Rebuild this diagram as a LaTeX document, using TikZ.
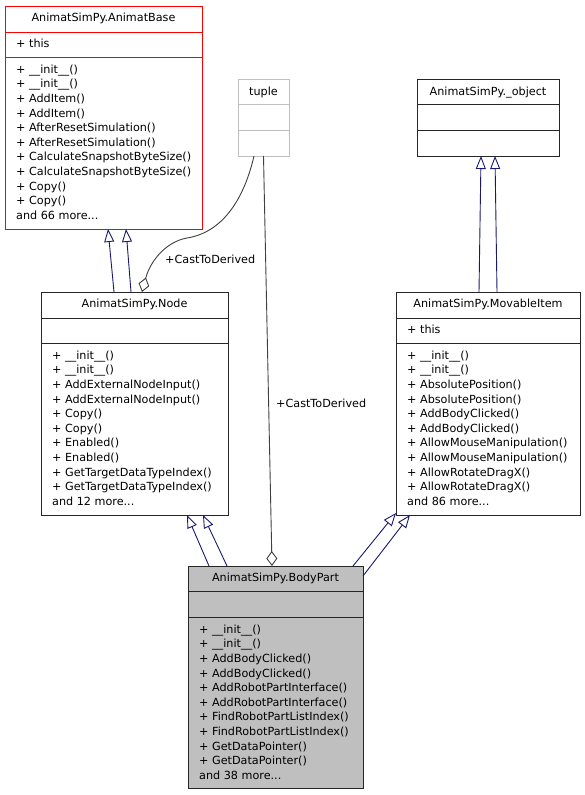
\documentclass[tikz,border=0pt]{standalone}
\usepackage{fontspec}
\setmainfont{DejaVu Sans}
\usetikzlibrary{arrows.meta}

\definecolor{navy}{HTML}{191970}
\definecolor{edgegray}{HTML}{404040}
\definecolor{lightframe}{HTML}{BFBFBF}
\definecolor{bodyfill}{HTML}{BFBFBF}

\begin{document}
\begin{tikzpicture}[x=1pt, y=-1pt,
        classbox/.style={rectangle, draw=black!85, line width=1pt, fill=white,
            inner sep=0pt, outer sep=0pt, anchor=north west},
        classname/.style={inner sep=0pt, anchor=base, font=\fontsize{11.2}{14.6}\selectfont},
        members/.style={inner sep=0pt, anchor=north west, align=left,
            font=\fontsize{11.2}{14.6}\selectfont},
        rolename/.style={inner sep=0pt, anchor=base west, font=\fontsize{11.2}{14.6}\selectfont},
        sepline/.style={black!85, line width=1pt},
        inherit/.style={-{Triangle[open, length=13pt, width=10pt]}, navy, line width=0.9pt},
        aggregate/.style={-{Diamond[open, length=15pt, width=11pt]}, edgegray, line width=0.9pt}
    ]
        \useasboundingbox[fill=white] (0,0) rectangle (585,795);

        % Base class at the top left
        \node[classbox, draw=red, minimum width=197pt, minimum height=223pt] (animatbase) at (5,6) {};
        \node[classname] (animatbase-name) at ([yshift=-15.5pt]animatbase.north) {AnimatSimPy.AnimatBase};
        \draw[sepline, red] ([yshift=-26pt]animatbase.north west) -- ([yshift=-26pt]animatbase.north east);
        \draw[sepline, red] ([yshift=-51pt]animatbase.north west) -- ([yshift=-51pt]animatbase.north east);
        \node[members] (animatbase-attr) at ([xshift=11pt, yshift=-32.5pt]animatbase.north west) {+ this};
        \node[members] (animatbase-ops) at ([xshift=11pt, yshift=-58.5pt]animatbase.north west)
            {+ \_\_init\_\_()\\+ \_\_init\_\_()\\+ AddItem()\\+ AddItem()\\+ AfterResetSimulation()\\
            + AfterResetSimulation()\\+ CalculateSnapshotByteSize()\\+ CalculateSnapshotByteSize()\\
            + Copy()\\+ Copy()\\and 66 more...};

        % tuple
        \node[classbox, draw=lightframe, minimum width=51pt, minimum height=77pt] (tuple) at (238,79) {};
        \node[classname] (tuple-name) at ([yshift=-16pt]tuple.north) {tuple};
        \draw[sepline, lightframe] ([yshift=-25.5pt]tuple.north west) -- ([yshift=-25.5pt]tuple.north east);
        \draw[sepline, lightframe] ([yshift=-51pt]tuple.north west) -- ([yshift=-51pt]tuple.north east);

        % _object
        \node[classbox, minimum width=142pt, minimum height=77pt] (object) at (417,79) {};
        \node[classname] (object-name) at ([yshift=-16pt]object.north) {AnimatSimPy.\_object};
        \draw[sepline] ([yshift=-25.5pt]object.north west) -- ([yshift=-25.5pt]object.north east);
        \draw[sepline] ([yshift=-51pt]object.north west) -- ([yshift=-51pt]object.north east);

        % Node
        \node[classbox, minimum width=187pt, minimum height=223pt] (nodecls) at (41,292) {};
        \node[classname] (nodecls-name) at ([yshift=-15.5pt]nodecls.north) {AnimatSimPy.Node};
        \draw[sepline] ([yshift=-26pt]nodecls.north west) -- ([yshift=-26pt]nodecls.north east);
        \draw[sepline] ([yshift=-51pt]nodecls.north west) -- ([yshift=-51pt]nodecls.north east);
        \node[members] (nodecls-ops) at ([xshift=11pt, yshift=-58.5pt]nodecls.north west)
            {+ \_\_init\_\_()\\+ \_\_init\_\_()\\+ AddExternalNodeInput()\\+ AddExternalNodeInput()\\
            + Copy()\\+ Copy()\\+ Enabled()\\+ Enabled()\\+ GetTargetDataTypeIndex()\\
            + GetTargetDataTypeIndex()\\and 12 more...};

        % MovableItem
        \node[classbox, minimum width=184pt, minimum height=223pt] (movable) at (396,292) {};
        \node[classname] (movable-name) at ([yshift=-15.5pt]movable.north) {AnimatSimPy.MovableItem};
        \draw[sepline] ([yshift=-26pt]movable.north west) -- ([yshift=-26pt]movable.north east);
        \draw[sepline] ([yshift=-51pt]movable.north west) -- ([yshift=-51pt]movable.north east);
        \node[members] (movable-attr) at ([xshift=11pt, yshift=-32.5pt]movable.north west) {+ this};
        \node[members] (movable-ops) at ([xshift=11pt, yshift=-58.5pt]movable.north west)
            {+ \_\_init\_\_()\\+ \_\_init\_\_()\\+ AbsolutePosition()\\+ AbsolutePosition()\\
            + AddBodyClicked()\\+ AddBodyClicked()\\+ AllowMouseManipulation()\\
            + AllowMouseManipulation()\\+ AllowRotateDragX()\\+ AllowRotateDragX()\\and 86 more...};

        % BodyPart
        \node[classbox, fill=bodyfill, minimum width=175pt, minimum height=222pt] (bodypart) at (188,566) {};
        \node[classname] (bodypart-name) at ([yshift=-15.5pt]bodypart.north) {AnimatSimPy.BodyPart};
        \draw[sepline] ([yshift=-25pt]bodypart.north west) -- ([yshift=-25pt]bodypart.north east);
        \draw[sepline] ([yshift=-51pt]bodypart.north west) -- ([yshift=-51pt]bodypart.north east);
        \node[members] (bodypart-ops) at ([xshift=11pt, yshift=-58.5pt]bodypart.north west)
            {+ \_\_init\_\_()\\+ \_\_init\_\_()\\+ AddBodyClicked()\\+ AddBodyClicked()\\
            + AddRobotPartInterface()\\+ AddRobotPartInterface()\\+ FindRobotPartListIndex()\\
            + FindRobotPartListIndex()\\+ GetDataPointer()\\+ GetDataPointer()\\and 38 more...};

        % Inheritance
        \draw[inherit] ([xshift=73pt]nodecls.north west) -- ([xshift=103pt]animatbase.south west);
        \draw[inherit] ([xshift=90pt]nodecls.north west) -- ([xshift=121pt]animatbase.south west);
        \draw[inherit] ([xshift=83pt]movable.north west) -- ([xshift=64pt]object.south west);
        \draw[inherit] ([xshift=101pt]movable.north west) -- ([xshift=78pt]object.south west);
        \draw[inherit] ([xshift=21pt]bodypart.north west) -- ([xshift=146pt]nodecls.south west);
        \draw[inherit] ([xshift=39pt]bodypart.north west) -- ([xshift=162pt]nodecls.south west);
        \draw[inherit] ([xshift=-10pt]bodypart.north east) -- ([yshift=2pt]movable.south west);
        \draw[inherit] ([yshift=-10pt]bodypart.north east) -- ([xshift=14pt]movable.south west);

        % Aggregation from tuple
        \draw[aggregate] ([xshift=-9.5pt]tuple.south) .. controls (245,195) and (225,232) .. (187,238)
            .. controls (165,242) and (150,262) .. ([xshift=101pt]nodecls.north west);
        \draw[aggregate] (tuple.south) -- ([xshift=84pt]bodypart.north west);
        \node[rolename] (cast-node) at (165,263) {+CastToDerived};
        \node[rolename] (cast-body) at (276,407) {+CastToDerived};
    \end{tikzpicture}
\end{document}
